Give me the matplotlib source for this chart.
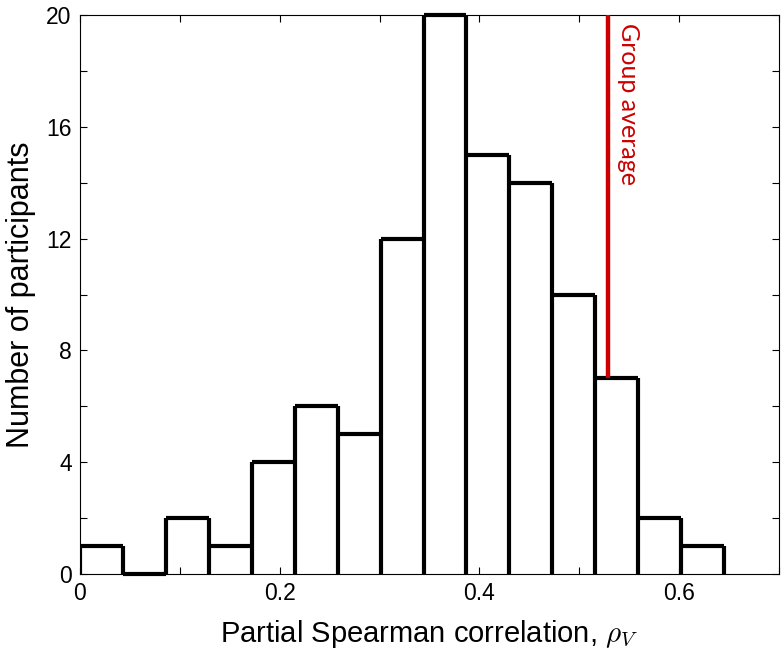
import numpy as np
import matplotlib
matplotlib.use('Agg')
import matplotlib.pyplot as plt

plt.rcParams['font.family'] = ['Liberation Sans', 'DejaVu Sans']
plt.rcParams['mathtext.fontset'] = 'cm'

# histogram data
bin_edges = [0.0, 0.043, 0.086, 0.129, 0.172, 0.215, 0.258, 0.301, 0.344,
             0.387, 0.430, 0.473, 0.516, 0.559, 0.602, 0.645]
counts = [1, 0, 2, 1, 4, 6, 5, 12, 20, 15, 14, 10, 7, 2, 1]
group_avg = 0.529

x_ticks = [0.0, 0.1, 0.2, 0.3, 0.4, 0.5, 0.6, 0.7]
x_ticklabels = ['0', '', '0.2', '', '0.4', '', '0.6', '']
y_ticks = [0, 2, 4, 6, 8, 10, 12, 14, 16, 18, 20]
y_ticklabels = ['0', '', '4', '', '8', '', '12', '', '16', '', '20']

fig = plt.figure(figsize=(7.83, 6.52), dpi=100)
ax = fig.add_axes([80/783, 78/652, 699/783, 559/652])

lw = 3.0
edges = np.array(bin_edges)
cnt = np.array(counts)

# bar tops
ax.hlines(cnt, edges[:-1], edges[1:], colors='k', linewidth=lw, clip_on=False, zorder=3)
# bar sides, each edge goes up to the taller neighbour
left_h = np.concatenate([[0], cnt])
right_h = np.concatenate([cnt, [0]])
ax.vlines(edges, 0, np.maximum(left_h, right_h), colors='k', linewidth=lw, zorder=3)

# group average marker
ax.vlines(group_avg, counts[12], 20, colors='#cc0000', linewidth=3.2, zorder=4)
ax.text(group_avg + 0.009, 19.72, 'Group average', rotation=-90, ha='left', va='top',
        color='#cc0000', fontsize=18, family=['Lato', 'DejaVu Sans'])

ax.set_xlim(0, 0.7)
ax.set_ylim(0, 20)
ax.set_xticks(x_ticks)
ax.set_xticklabels(x_ticklabels)
ax.set_yticks(y_ticks)
ax.set_yticklabels(y_ticklabels)
ax.tick_params(direction='in', top=True, right=True, length=5, width=0.8,
               labelsize=16.5, pad=6)
for s in ax.spines.values():
    s.set_linewidth(0.8)

ax.set_xlabel('Partial Spearman correlation, $\\rho_V$', fontsize=21, labelpad=9)
ax.set_ylabel('Number of participants', fontsize=22, labelpad=7)

fig.savefig('out.png', dpi=100)
plt.close(fig)
